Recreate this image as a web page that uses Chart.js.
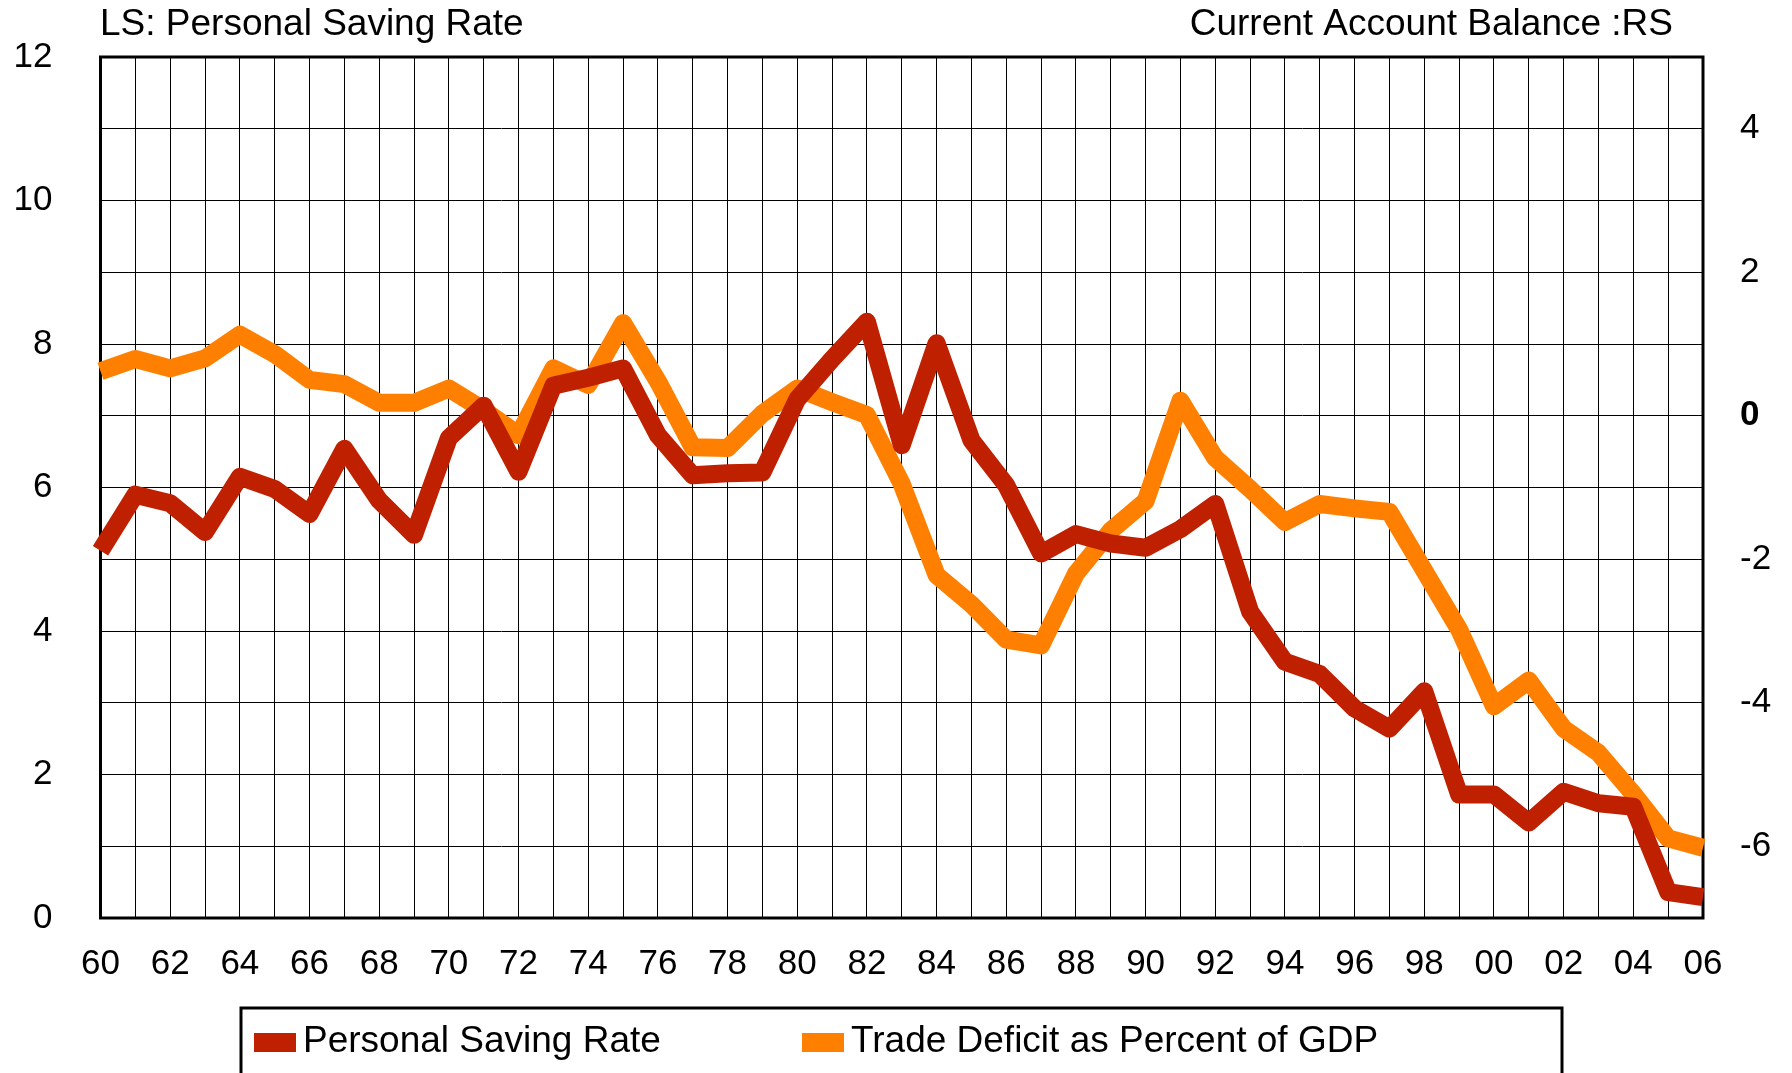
<!DOCTYPE html>
<html>
<head>
<meta charset="utf-8">
<script src="https://cdn.jsdelivr.net/npm/chart.js@4.4.1/dist/chart.umd.min.js"></script>
<style>
html,body{margin:0;padding:0;background:#fff;}
canvas{display:block;}
</style>
</head>
<body>
<canvas id="c" width="1792" height="1073"></canvas>
<script>
const years = [1960,1961,1962,1963,1964,1965,1966,1967,1968,1969,1970,1971,1972,1973,1974,1975,1976,1977,1978,1979,1980,1981,1982,1983,1984,1985,1986,1987,1988,1989,1990,1991,1992,1993,1994,1995,1996,1997,1998,1999,2000,2001,2002,2003,2004,2005,2006];
const savingRate = [5.12,5.90,5.78,5.38,6.15,5.98,5.63,6.54,5.82,5.34,6.69,7.14,6.22,7.42,7.53,7.66,6.73,6.17,6.20,6.21,7.23,7.79,8.31,6.59,8.01,6.66,6.03,5.08,5.35,5.22,5.16,5.42,5.77,4.27,3.57,3.40,2.92,2.64,3.16,1.72,1.72,1.33,1.76,1.60,1.55,0.36,0.29];
const tradeDeficit = [0.62,0.79,0.66,0.80,1.13,0.86,0.50,0.44,0.18,0.18,0.38,0.08,-0.27,0.66,0.43,1.29,0.48,-0.44,-0.45,0.03,0.38,0.19,0.01,-0.95,-2.22,-2.63,-3.12,-3.20,-2.20,-1.60,-1.19,0.21,-0.59,-1.02,-1.48,-1.23,-1.29,-1.34,-2.16,-2.98,-4.05,-3.69,-4.36,-4.70,-5.27,-5.89,-6.02];
const seriesNames = ["Personal Saving Rate", "Trade Deficit as Percent of GDP"];
const leftTitle = "LS: Personal Saving Rate";
const rightTitle = "Current Account Balance :RS";

const FONT = "'Liberation Sans', Arial, Helvetica, sans-serif";
const RED = "#BF2000";
const ORANGE = "#FF8000";

const extras = {
  id: 'extras',
  beforeDatasetsDraw(chart) {
    const {ctx, chartArea: a} = chart;
    ctx.save();
    ctx.strokeStyle = '#000';
    ctx.lineWidth = 3;
    ctx.strokeRect(a.left, a.top, a.right - a.left, a.bottom - a.top);
    ctx.restore();
  },
  afterDraw(chart) {
    const {ctx} = chart;
    ctx.save();
    ctx.fillStyle = '#000';
    ctx.font = "37px " + FONT;
    ctx.textBaseline = 'alphabetic';
    ctx.textAlign = 'left';
    ctx.fillText(leftTitle, 100, 35);
    ctx.textAlign = 'right';
    ctx.fillText(rightTitle, 1673, 35);
    ctx.strokeStyle = '#000';
    ctx.lineWidth = 3;
    ctx.strokeRect(241, 1008, 1321, 90);
    const items = chart.data.datasets;
    const xs = [254, 802];
    ctx.textAlign = 'left';
    ctx.font = "37px " + FONT;
    items.forEach((ds, i) => {
      ctx.fillStyle = ds.borderColor;
      ctx.fillRect(xs[i], 1033, 42, 19);
      ctx.fillStyle = '#000';
      ctx.fillText(ds.label, xs[i] + 49, 1052);
    });
    ctx.restore();
  }
};

function noPad(s) { s.paddingTop = 0; s.paddingBottom = 0; s.paddingLeft = 0; s.paddingRight = 0; }

new Chart(document.getElementById('c'), {
  type: 'line',
  data: {
    labels: years,
    datasets: [
      {label: seriesNames[0], data: savingRate, yAxisID: 'y', borderColor: RED, backgroundColor: RED,
       borderWidth: 18, pointRadius: 0, borderJoinStyle: 'round', borderCapStyle: 'butt', tension: 0, clip: false},
      {label: seriesNames[1], data: tradeDeficit, yAxisID: 'y1', borderColor: ORANGE, backgroundColor: ORANGE,
       borderWidth: 18, pointRadius: 0, borderJoinStyle: 'round', borderCapStyle: 'butt', tension: 0, clip: false}
    ]
  },
  options: {
    responsive: false,
    animation: false,
    events: [],
    layout: {padding: {top: 57, bottom: 75, left: 0, right: 0}},
    plugins: {legend: {display: false}, title: {display: false}, tooltip: {enabled: false}},
    scales: {
      x: {
        type: 'category',
        offset: false,
        grid: {color: '#000', lineWidth: 1, drawTicks: false, offset: false},
        border: {display: false},
        ticks: {
          autoSkip: false, maxRotation: 0, minRotation: 0, padding: 25, color: '#000',
          font: {size: 35, family: FONT},
          callback: function(val, idx) { const y = years[idx]; return (y % 2 === 0) ? String(y).slice(2) : ''; }
        },
        afterFit(s) { s.height = 80; noPad(s); }
      },
      y: {
        position: 'left', min: 0, max: 12,
        grid: {color: '#000', lineWidth: 1, drawTicks: false},
        border: {display: false},
        ticks: {stepSize: 1, autoSkip: false, padding: 48, color: '#000', font: {size: 35, family: FONT},
          callback: v => (v % 2 === 0 ? String(v) : '')},
        afterFit(s) { s.width = 100.5; noPad(s); }
      },
      y1: {
        position: 'right', min: -7, max: 5,
        grid: {display: false, drawTicks: false},
        border: {display: false},
        ticks: {stepSize: 1, autoSkip: false, padding: 37, color: '#000',
          font: ctx => ({size: 35, family: FONT, weight: (ctx.tick && ctx.tick.value === 0) ? 'bold' : 'normal'}),
          callback: v => (v % 2 === 0 ? String(v) : '')},
        afterFit(s) { s.width = 89; noPad(s); }
      }
    }
  },
  plugins: [extras]
});
</script>
</body>
</html>
